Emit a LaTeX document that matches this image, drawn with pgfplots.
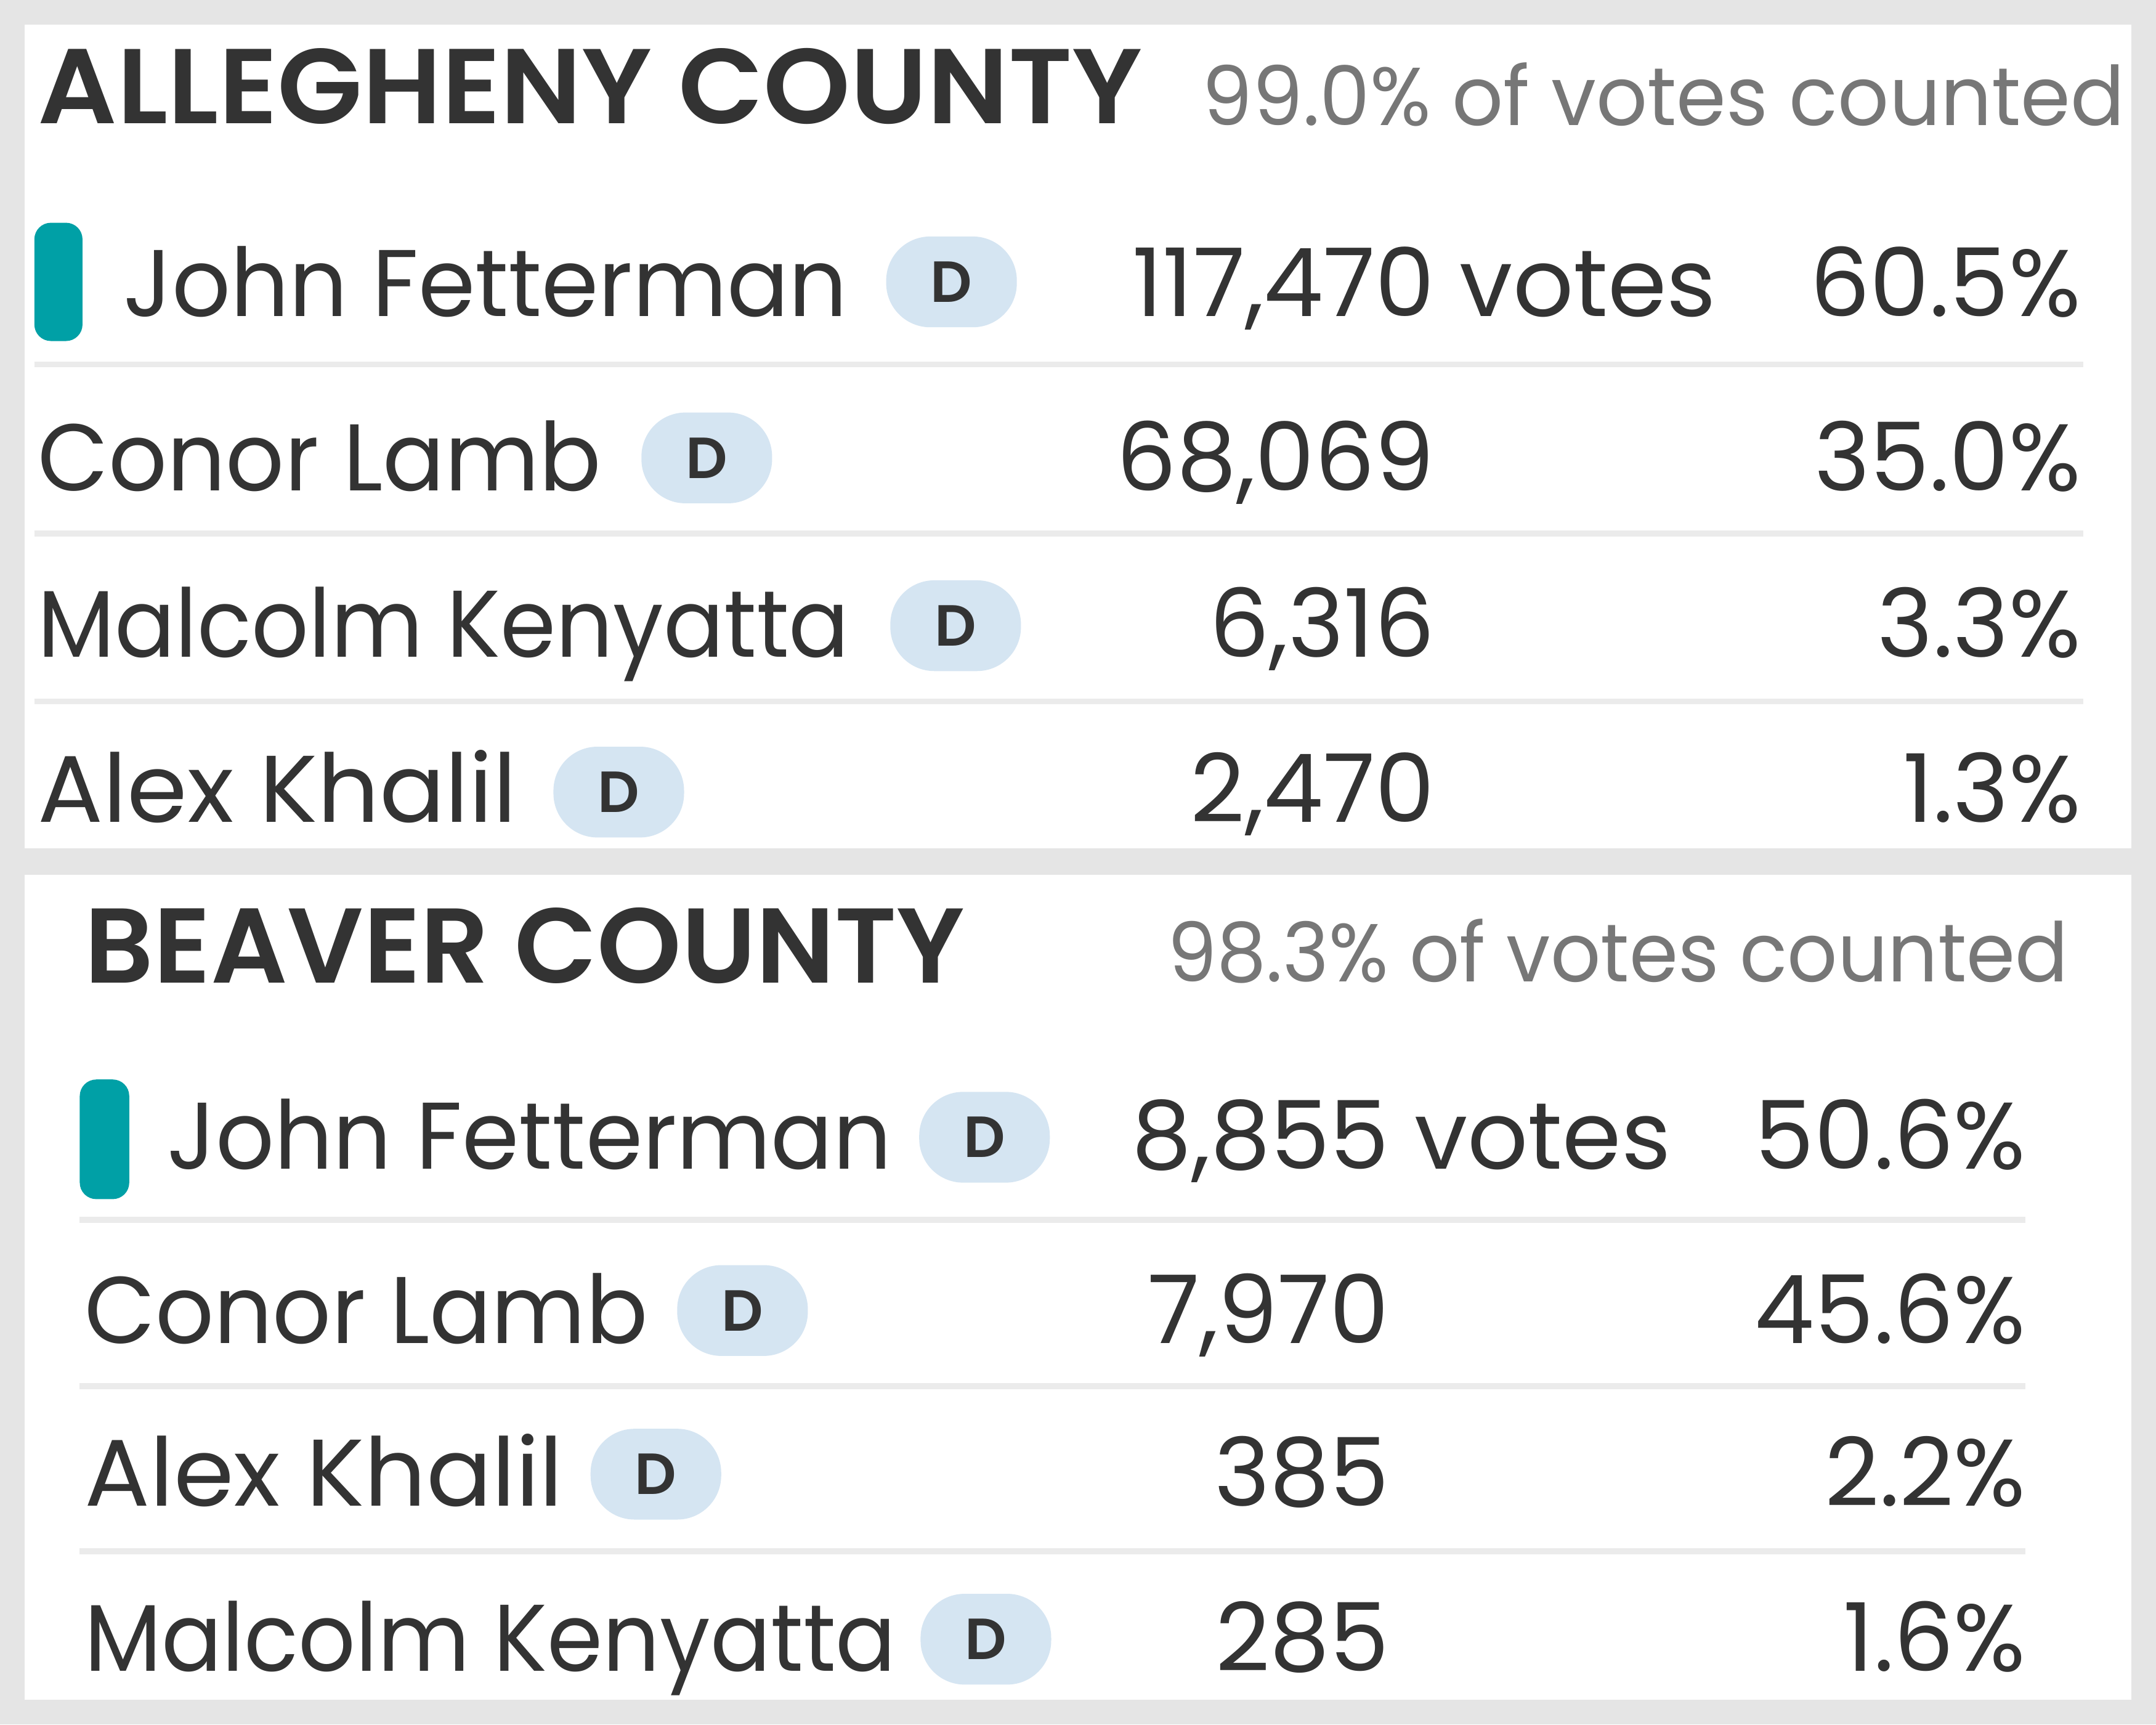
\documentclass[border=0pt]{standalone}
\usepackage{fontspec}
\setmainfont{Poppins}[BoldFont={Poppins SemiBold}]
\usepackage{pgfplots}
\pgfplotsset{compat=1.18}
\definecolor{bggray}{HTML}{E5E5E5}
\definecolor{txt}{HTML}{333333}
\definecolor{graytxt}{HTML}{777777}
\definecolor{accent}{HTML}{00A0A6}
\definecolor{badge}{HTML}{D5E5F2}
\definecolor{sepc}{HTML}{EBEBEB}
\newcommand{\namefont}{\fontsize{19.6}{24}\selectfont}
\newcommand{\headfont}{\fontsize{22}{26}\selectfont\bfseries}
\newcommand{\cntfont}{\fontsize{17}{20}\selectfont}
\newcommand{\hs}[2]{\scalebox{#1}[1]{#2}}
\begin{document}
\begin{tikzpicture}
\begin{axis}[scale only axis, width=15.68cm, height=12.54cm,
  xmin=0, xmax=1568, ymin=0, ymax=1254, y dir=reverse,
  hide axis, clip=false]
% backgrounds
\fill[bggray] (axis cs:0,0) rectangle (axis cs:1568,1254);
\fill[white] (axis cs:18,18) rectangle (axis cs:1550,617);
\fill[white] (axis cs:18,636) rectangle (axis cs:1550,1236);
% leader bars
\addplot[draw=none, fill=accent, rounded corners=1.2mm] coordinates {(25,162) (60,162) (60,248) (25,248)} -- cycle;
\addplot[draw=none, fill=accent, rounded corners=1.2mm] coordinates {(58,785) (94,785) (94,872) (58,872)} -- cycle;
% separators
\addplot[sepc, line width=1.2pt] coordinates {(25,265) (1515,265)};
\addplot[sepc, line width=1.2pt] coordinates {(25,388) (1515,388)};
\addplot[sepc, line width=1.2pt] coordinates {(25,510) (1515,510)};
\addplot[sepc, line width=1.2pt] coordinates {(58,887) (1473,887)};
\addplot[sepc, line width=1.2pt] coordinates {(58,1008) (1473,1008)};
\addplot[sepc, line width=1.2pt] coordinates {(58,1128) (1473,1128)};
% headings
\addplot[draw=none, mark=none, nodes near coords, point meta=explicit symbolic,
  nodes near coords style={anchor=base west, inner sep=0pt, font=\headfont, text=txt}]
  coordinates {(27,90) [\hs{1.04}{ALLEGHENY COUNTY}] (61,715) [\hs{1.008}{BEAVER COUNTY}]};
\addplot[draw=none, mark=none, nodes near coords, point meta=explicit symbolic,
  nodes near coords style={anchor=base east, inner sep=0pt, font=\cntfont, text=graytxt}]
  coordinates {(1546,91) [\hs{0.975}{99.0\% of votes counted}] (1505,714) [\hs{0.955}{98.3\% of votes counted}]};
% names
\addplot[draw=none, mark=none, nodes near coords, point meta=explicit symbolic,
  nodes near coords style={anchor=base west, inner sep=0pt, font=\namefont, text=txt}]
  coordinates {(89,230) [\hs{0.967}{John Fetterman}] (27,357) [\hs{0.967}{Conor Lamb}] (27,478) [\hs{0.944}{Malcolm Kenyatta}] (27,598) [\hs{1.023}{Alex Khalil}]
  (121,850) [\hs{0.967}{John Fetterman}] (61,977) [\hs{0.967}{Conor Lamb}] (61,1095) [\hs{1.023}{Alex Khalil}] (61,1215) [\hs{0.944}{Malcolm Kenyatta}]};
% badges
\addplot[draw=none, mark=none, nodes near coords={\fontsize{12}{14}\selectfont\bfseries D},
  nodes near coords style={anchor=center, inner sep=0pt, fill=badge, text=txt, rounded corners=3.2mm, minimum width=9.5mm, minimum height=6.6mm}]
  coordinates {(692,205) (514,333) (695,455) (450,576) (716,827) (540,953) (477,1072) (717,1192)};
% votes
\addplot[draw=none, mark=none, nodes near coords, point meta=explicit symbolic,
  nodes near coords style={anchor=base east, inner sep=0pt, font=\namefont, text=txt}]
  coordinates {(1044,230) [117,470\rlap{ votes}] (1044,357) [68,069] (1044,478) [6,316] (1044,598) [2,470]
  (1011,850) [8,855\rlap{ votes}] (1011,977) [7,970] (1011,1095) [385] (1011,1215) [285]};
% percentages
\addplot[draw=none, mark=none, nodes near coords, point meta=explicit symbolic,
  nodes near coords style={anchor=base east, inner sep=0pt, font=\namefont, text=txt}]
  coordinates {(1514,230) [60.5\%] (1514,357) [35.0\%] (1514,478) [3.3\%] (1514,598) [1.3\%]
  (1474,850) [50.6\%] (1474,977) [45.6\%] (1474,1095) [2.2\%] (1474,1215) [1.6\%]};
\end{axis}
\end{tikzpicture}
\end{document}
